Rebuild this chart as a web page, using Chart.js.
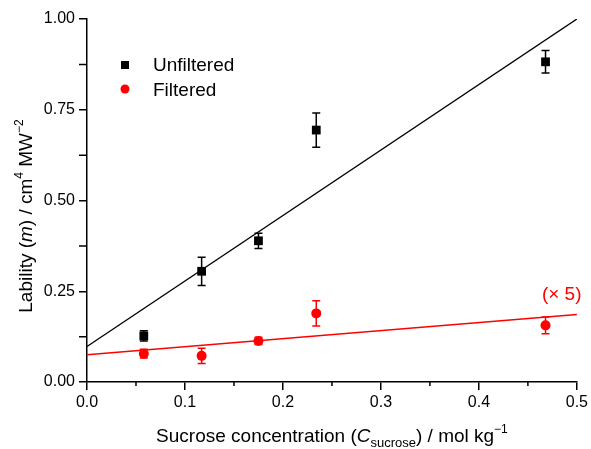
<!DOCTYPE html>
<html>
<head>
<meta charset="utf-8">
<script src="https://cdn.jsdelivr.net/npm/chart.js@4.4.1/dist/chart.umd.min.js"></script>
<style>
  html, body { margin: 0; padding: 0; background: #fff; }
  #wrap { width: 591px; height: 449px; }
</style>
</head>
<body>
<div id="wrap"><canvas id="chart"></canvas></div>
<script>
// sucrose concentration / mol kg-1
const concentrations = [0.058, 0.117, 0.175, 0.234, 0.468];
const unfiltered = [0.127, 0.305, 0.389, 0.694, 0.882];
const unfilteredErr = [0.014, 0.039, 0.021, 0.047, 0.031];
const filtered = [0.078, 0.072, 0.113, 0.189, 0.156];
const filteredErr = [0.012, 0.021, 0.010, 0.035, 0.023];

// linear fits (end points)
const fitX = [0, 0.5];
const unfilteredFit = [0.098, 1.0];
const filteredFit = [0.075, 0.186];

const xTicks = [0, 0.1, 0.2, 0.3, 0.4, 0.5];
const yTicks = [0, 0.25, 0.5, 0.75, 1.0];

const FONT = "'Liberation Sans', Arial, sans-serif";
const RED = "#ff0000";

const toPoints = (xs, ys) => xs.map((x, i) => ({ x: x, y: ys[i] }));

// draws a row of text pieces (normal / italic / sub / sup) centred on x
function drawRich(ctx, parts, x, y) {
    let total = 0;
    parts.forEach(p => {
        ctx.font = (p.italic ? "italic " : "") + p.size + "px " + FONT;
        p.w = ctx.measureText(p.t).width;
        total += p.w;
    });
    let cx = x - total / 2;
    ctx.textAlign = "left";
    ctx.textBaseline = "alphabetic";
    parts.forEach(p => {
        ctx.font = (p.italic ? "italic " : "") + p.size + "px " + FONT;
        ctx.fillText(p.t, cx, y + (p.dy || 0));
        cx += p.w;
    });
}

const errorBars = {
    id: "errorBars",
    afterDatasetsDraw(chart) {
        const ctx = chart.ctx;
        const yScale = chart.scales.y;
        chart.data.datasets.forEach((ds, di) => {
            if (!ds.errors) return;
            const meta = chart.getDatasetMeta(di);
            ctx.save();
            ctx.strokeStyle = ds.borderColor;
            ctx.lineWidth = 1.5;
            meta.data.forEach((pt, i) => {
                const v = ds.data[i].y;
                const top = yScale.getPixelForValue(v + ds.errors[i]);
                const bot = yScale.getPixelForValue(v - ds.errors[i]);
                ctx.beginPath();
                ctx.moveTo(pt.x, top); ctx.lineTo(pt.x, bot);
                ctx.moveTo(pt.x - 4, top); ctx.lineTo(pt.x + 4, top);
                ctx.moveTo(pt.x - 4, bot); ctx.lineTo(pt.x + 4, bot);
                ctx.stroke();
            });
            ctx.restore();
        });
    }
};

const decorations = {
    id: "decorations",
    afterDraw(chart) {
        const ctx = chart.ctx;
        const xs = chart.scales.x, ys = chart.scales.y;
        ctx.save();
        ctx.strokeStyle = "#000";
        ctx.lineWidth = 1.5;
        // minor ticks half way between the major ones
        ctx.beginPath();
        for (let i = 0; i < xTicks.length - 1; i++) {
            const px = xs.getPixelForValue((xTicks[i] + xTicks[i + 1]) / 2);
            ctx.moveTo(px, xs.top); ctx.lineTo(px, xs.top + 4);
        }
        for (let i = 0; i < yTicks.length - 1; i++) {
            const py = ys.getPixelForValue((yTicks[i] + yTicks[i + 1]) / 2);
            ctx.moveTo(ys.right, py); ctx.lineTo(ys.right - 8, py);
        }
        ctx.stroke();

        ctx.fillStyle = "#000";
        // x title
        drawRich(ctx, [
            { t: "Sucrose concentration (", size: 19 },
            { t: "C", size: 19, italic: true },
            { t: "sucrose", size: 13, dy: 5 },
            { t: ") / mol kg", size: 19 },
            { t: "\u22121", size: 12, dy: -9 }
        ], (chart.chartArea.left + chart.chartArea.right) / 2, 442);

        // y title
        ctx.save();
        ctx.translate(32, 216);
        ctx.rotate(-Math.PI / 2);
        drawRich(ctx, [
            { t: "Lability (", size: 19 },
            { t: "m", size: 19, italic: true },
            { t: ") / cm", size: 19 },
            { t: "4", size: 12, dy: -9 },
            { t: " MW", size: 19 },
            { t: "\u22122", size: 12, dy: -9 }
        ], 0, 0);
        ctx.restore();

        // legend
        ctx.fillStyle = "#000";
        ctx.fillRect(121, 61, 8, 8);
        ctx.fillStyle = RED;
        ctx.beginPath();
        ctx.arc(125, 89, 4.5, 0, Math.PI * 2);
        ctx.fill();
        ctx.fillStyle = "#000";
        ctx.font = "19px " + FONT;
        ctx.textAlign = "left";
        ctx.textBaseline = "alphabetic";
        ctx.fillText("Unfiltered", 153, 71);
        ctx.fillText("Filtered", 153, 96);

        // scale factor note for the filtered series
        ctx.fillStyle = RED;
        ctx.textAlign = "center";
        ctx.fillText("(\u00d7 5)", xs.getPixelForValue(0.4845), ys.getPixelForValue(0.225));
        ctx.restore();
    }
};

new Chart(document.getElementById("chart"), {
    type: "scatter",
    data: {
        datasets: [
            {
                type: "line",
                data: toPoints(fitX, unfilteredFit),
                borderColor: "#000",
                borderWidth: 1.3,
                pointRadius: 0
            },
            {
                type: "line",
                data: toPoints(fitX, filteredFit),
                borderColor: RED,
                borderWidth: 1.3,
                pointRadius: 0
            },
            {
                label: "Unfiltered",
                data: toPoints(concentrations, unfiltered),
                errors: unfilteredErr,
                pointStyle: "rect",
                pointRadius: 6.2,
                backgroundColor: "#000",
                borderColor: "#000",
                borderWidth: 0
            },
            {
                label: "Filtered",
                data: toPoints(concentrations, filtered),
                errors: filteredErr,
                pointStyle: "circle",
                pointRadius: 5,
                backgroundColor: RED,
                borderColor: RED,
                borderWidth: 0
            }
        ]
    },
    options: {
        responsive: true,
        maintainAspectRatio: false,
        animation: false,
        layout: { padding: { top: 19, right: 14, left: 0, bottom: 0 } },
        plugins: { legend: { display: false }, tooltip: { enabled: false } },
        scales: {
            x: {
                type: "linear",
                min: 0, max: 0.5,
                afterBuildTicks: s => { s.ticks = xTicks.map(v => ({ value: v })); },
                afterFit: s => { s.height = 67; },
                ticks: { callback: v => v.toFixed(1), color: "#000", font: { family: FONT, size: 16 }, padding: 3 },
                grid: { drawOnChartArea: false, tickLength: 8, color: "#000", lineWidth: 1.5 },
                border: { color: "#000", width: 1.5 }
            },
            y: {
                min: 0, max: 1,
                afterBuildTicks: s => { s.ticks = yTicks.map(v => ({ value: v })); },
                afterFit: s => { s.width = 87; },
                ticks: { callback: v => v.toFixed(2), color: "#000", font: { family: FONT, size: 16 }, padding: 4 },
                grid: { drawOnChartArea: false, tickLength: 8, color: "#000", lineWidth: 1.5 },
                border: { color: "#000", width: 1.5 }
            }
        }
    },
    plugins: [errorBars, decorations]
});
</script>
</body>
</html>
